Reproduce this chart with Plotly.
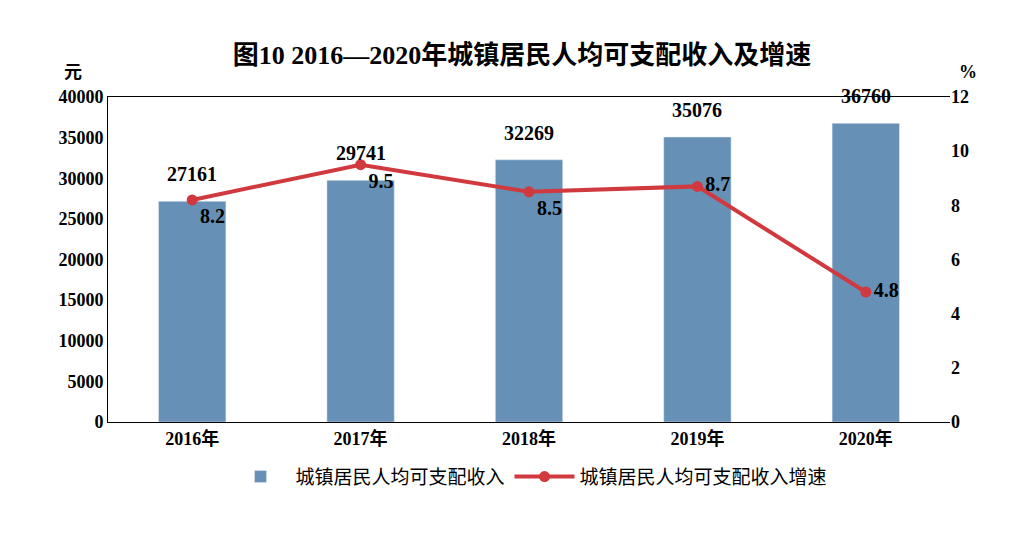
import plotly.graph_objects as go

years = ["2016年", "2017年", "2018年", "2019年", "2020年"]
income = [27161, 29741, 32269, 35076, 36760]
growth = [8.2, 9.5, 8.5, 8.7, 4.8]
growth_pos = ["bottom right", "bottom right", "bottom right", "middle right", "middle right"]

F = "Liberation Serif, Noto Sans CJK SC"
fig = go.Figure()
fig.add_trace(go.Bar(x=years, y=income, name="城镇居民人均可支配收入", marker_color="#6690b5",
                     width=0.4))
fig.add_trace(go.Scatter(x=years, y=growth, name="城镇居民人均可支配收入增速", yaxis="y2",
                         mode="lines+markers+text", line=dict(color="#d0393e", width=4),
                         marker=dict(size=11, color="#d0393e"),
                         text=["<b>%s</b>" % v for v in growth], textposition=growth_pos,
                         textfont=dict(size=20, color="black", family=F), cliponaxis=False))
ann = [dict(x=yv, y=v, text="<b>%d</b>" % v, showarrow=False, yanchor="bottom", yshift=14,
            font=dict(size=20, family=F, color="black")) for yv, v in zip(years, income)]
ann += [
    dict(text="<b>元</b>", xref="paper", yref="paper", x=-0.055, y=1.115, showarrow=False,
         font=dict(size=18)),
    dict(text="<b>%</b>", xref="paper", yref="paper", x=1.035, y=1.115, showarrow=False,
         font=dict(size=18)),
]
fig.update_layout(
    width=1028, height=537, margin=dict(l=100, r=86, t=89, b=123),
    plot_bgcolor="white", paper_bgcolor="white",
    font=dict(family=F, size=17, color="black"),
    title=dict(text="<b>图10 2016—2020年城镇居民人均可支配收入及增速</b>", x=0.5, y=0.93,
               xanchor="center", font=dict(size=26, family=F)),
    xaxis=dict(showline=True, linecolor="black", linewidth=1, mirror=True, ticks="",
               tickfont=dict(size=18, family=F), tickprefix="<b>"),
    yaxis=dict(range=[0, 40000], dtick=5000, showgrid=False, showline=True, linecolor="black",
               ticks="", tickfont=dict(size=18, family=F), tickformat="d", tickprefix="<b>"),
    yaxis2=dict(range=[0, 12], dtick=2, overlaying="y", side="right", showgrid=False,
                ticks="", tickfont=dict(size=18, family=F), tickprefix="<b>"),
    legend=dict(orientation="h", x=0.5, xanchor="center", y=-0.11, yanchor="top",
                font=dict(size=19, family=F), itemwidth=60),
    annotations=ann,
)
fig.write_html("out.html")
